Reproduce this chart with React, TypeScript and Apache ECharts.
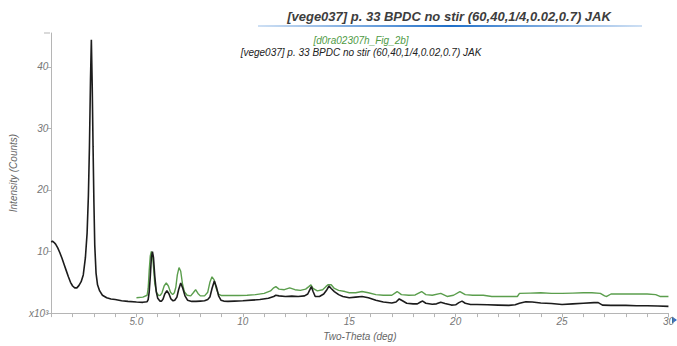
import React, { useEffect, useRef } from "react";
import * as echarts from "echarts";

const titleText = "[vege037] p. 33 BPDC no stir (60,40,1/4,0.02,0.7) JAK";
const greenName = "[d0ra02307h_Fig_2b]";
const blackName = "[vege037] p. 33 BPDC no stir (60,40,1/4,0.02,0.7) JAK";

const blackX = [
  1.0, 1.05, 1.12, 1.2, 1.3, 1.4, 1.5, 1.6, 1.7, 1.8, 1.9, 2.0, 2.1, 2.2, 2.3, 2.4, 2.5, 2.6, 2.68, 2.74, 2.79, 2.84, 2.88,
  2.92, 2.96, 3.0, 3.04, 3.1, 3.17, 3.27, 3.4, 3.6, 3.8, 4.0, 4.3, 4.6, 5.0, 5.3, 5.5, 5.55, 5.6, 5.65, 5.7, 5.75, 5.8,
  5.86, 5.93, 6.0, 6.1, 6.18, 6.25, 6.33, 6.43, 6.53, 6.62, 6.72, 6.8, 6.9, 6.98, 7.08, 7.18, 7.28, 7.4, 7.6, 7.8, 8.0,
  8.2, 8.35, 8.45, 8.55, 8.66, 8.76, 8.86, 8.97, 9.1, 9.3, 9.6, 10.0, 10.4, 10.8, 11.2, 11.45, 11.55, 11.7, 12.0, 12.3,
  12.6, 12.9, 13.05, 13.15, 13.22, 13.3, 13.4, 13.6, 13.8, 13.95, 14.05, 14.15, 14.3, 14.5, 14.7, 15.0, 15.3, 15.6, 15.9,
  16.25, 16.6, 17.0, 17.2, 17.35, 17.5, 17.7, 18.0, 18.2, 18.35, 18.45, 18.6, 18.9, 19.1, 19.3, 19.5, 19.8, 20.0, 20.15,
  20.3, 20.45, 20.7, 21.0, 21.5, 22.0, 22.5, 22.8, 23.0, 23.3, 23.6, 24.0, 24.5, 25.0, 25.5, 26.0, 26.5, 26.7, 26.9, 27.3,
  28.0, 28.5, 29.0, 29.5, 30.0,
];
const blackY = [
  11.5, 11.7, 11.5, 11.2, 10.6, 9.8, 8.9, 7.9, 6.9, 5.9, 5.0, 4.4, 4.1, 4.1, 4.5, 5.1, 6.2, 9.0, 13, 19, 27, 38, 44.4,
  37, 27, 18, 11, 6.5, 4.6, 3.6, 2.9, 2.5, 2.3, 2.2, 2.0, 1.9, 1.8, 1.75, 1.85, 2.2, 3.5, 6.0, 9.0, 10.0, 9.0,
  6.0, 3.5, 2.4, 1.95, 1.95, 2.3, 3.1, 3.65, 3.1, 2.3, 2.0, 2.1, 2.6, 3.8, 4.9, 4.0, 2.8, 2.1, 1.9, 1.9, 1.95,
  2.0, 2.2, 2.6, 4.0, 5.2, 4.2, 2.8, 2.1, 1.95, 1.9, 1.95, 2.0, 2.1, 2.2, 2.4, 2.7, 2.9, 2.8, 2.7, 2.75,
  2.7, 2.8, 3.1, 3.8, 4.3, 3.5, 2.7, 2.7, 3.1, 3.8, 4.4, 4.0, 3.5, 3.0, 2.7, 2.5, 2.6, 2.7, 2.5,
  2.1, 1.8, 1.65, 1.8, 2.3, 2.0, 1.6, 1.5, 1.5, 1.8, 1.95, 1.6, 1.45, 1.5, 1.75, 1.55, 1.3, 1.35, 1.7,
  1.95, 1.6, 1.4, 1.4, 1.35, 1.3, 1.25, 1.35, 1.6, 1.85, 1.8, 1.65, 1.55, 1.4, 1.5, 1.6, 1.7, 1.7, 1.3, 1.25,
  1.25, 1.2, 1.2, 1.15, 1.1,
];

const greenX = [
  5.0, 5.3, 5.5, 5.55, 5.6, 5.65, 5.7, 5.75, 5.8, 5.86, 5.95, 6.05, 6.12, 6.2, 6.3, 6.4, 6.5, 6.6, 6.7, 6.78, 6.85,
  6.92, 7.0, 7.08, 7.16, 7.25, 7.38, 7.55, 7.67, 7.78, 7.89, 8.0, 8.2, 8.35, 8.45, 8.55, 8.65, 8.75, 8.85, 9.0, 9.3, 9.8,
  10.2, 10.6, 11.0, 11.3, 11.45, 11.55, 11.7, 11.95, 12.2, 12.45, 12.7, 12.95, 13.1, 13.2, 13.3, 13.5, 13.75, 13.9, 14.0,
  14.15, 14.3, 14.5, 14.8, 15.0, 15.3, 15.6, 15.9, 16.25, 16.6, 17.0, 17.25, 17.45, 17.8, 18.1, 18.4, 18.6, 18.9, 19.3,
  19.6, 19.9, 20.2, 20.45, 20.8, 21.3, 21.7, 22.3, 22.9, 23.0, 23.5, 24.0, 24.5, 25.0, 25.5, 26.0, 26.4, 26.8, 27.0, 27.1,
  27.3, 27.8, 28.5, 29.0, 29.4, 29.6, 30.0,
];
const greenY = [
  2.5, 2.6, 2.9, 4.0, 7.0, 9.3, 10.0, 9.6, 7.5, 4.8, 3.3, 2.85, 2.9, 3.3, 4.4, 4.9, 4.4, 3.4, 3.0, 3.3, 4.2,
  6.2, 7.4, 6.8, 4.8, 3.5, 2.9, 2.8, 3.3, 3.8, 3.2, 2.8, 2.8, 3.4, 5.0, 5.9, 5.4, 4.0, 3.1, 2.85, 2.85, 2.85,
  2.9, 3.0, 3.2, 3.6, 4.1, 4.3, 3.9, 3.8, 4.1, 3.8, 3.7, 3.9, 4.3, 4.6, 4.0, 3.6, 3.8, 4.3, 4.6,
  4.6, 4.0, 3.7, 3.5, 3.3, 3.3, 3.5, 3.3, 3.0, 2.9, 2.9, 3.5, 3.0, 2.9, 2.95, 3.5, 3.0, 2.9, 3.2,
  2.7, 2.9, 3.5, 3.0, 2.9, 2.9, 2.7, 2.7, 2.7, 3.2, 3.25, 3.3, 3.2, 3.2, 3.25, 3.3, 3.3, 3.2, 2.8, 2.7,
  3.1, 3.1, 3.1, 3.1, 3.0, 2.7, 2.7,
];

const FONT = "'Liberation Sans', Arial, sans-serif";

export default function App() {
  const ref = useRef<HTMLDivElement>(null);
  useEffect(() => {
    if (!ref.current) return;
    const chart = echarts.init(ref.current, null, { renderer: "svg" });
    const blackData = blackX.map((x, i) => [x, blackY[i]]);
    const greenData = greenX.map((x, i) => [x, greenY[i]]);
    chart.setOption({
      animation: false,
      backgroundColor: "#ffffff",
      textStyle: { fontFamily: FONT },
      grid: { left: 47, right: 4, top: 33, bottom: 26 },
      xAxis: {
        type: "value",
        min: 1,
        max: 30,
        interval: 1,
        name: "Two-Theta (deg)",
        nameLocation: "middle",
        nameGap: 17,
        nameTextStyle: { fontStyle: "italic", color: "#666", fontSize: 10, fontFamily: FONT },
        axisLine: { lineStyle: { color: "#b5b5b5", width: 1 } },
        axisTick: { show: true, length: 4, lineStyle: { color: "#b5b5b5" } },
        splitLine: { show: false },
        axisLabel: {
          margin: 3,
          fontSize: 10,
          fontStyle: "italic",
          color: "#777",
          fontFamily: FONT,
          formatter: (v: number) => (v === 5 ? "5.0" : v % 5 === 0 ? String(v) : ""),
        },
      },
      yAxis: {
        type: "value",
        min: 0,
        max: 45.5,
        interval: 10,
        name: "Intensity (Counts)",
        nameLocation: "middle",
        nameGap: 32,
        nameRotate: 90,
        nameTextStyle: { fontStyle: "italic", color: "#666", fontSize: 10, fontFamily: FONT },
        axisLine: { show: true, lineStyle: { color: "#b5b5b5", width: 1 } },
        axisTick: { show: true, length: 4, lineStyle: { color: "#b5b5b5" } },
        splitLine: { show: false },
        axisLabel: {
          margin: 3,
          fontSize: 10,
          fontStyle: "italic",
          color: "#777",
          fontFamily: FONT,
          showMaxLabel: false,
          formatter: (v: number) => (v === 0 ? "x10³" : String(v)),
        },
      },
      series: [
        {
          name: greenName,
          type: "line",
          data: greenData,
          showSymbol: false,
          lineStyle: { color: "#5b9e4d", width: 1.4 },
          itemStyle: { color: "#5b9e4d" },
        },
        {
          name: blackName,
          type: "line",
          data: blackData,
          showSymbol: false,
          lineStyle: { color: "#1c1c1c", width: 1.6 },
          itemStyle: { color: "#1c1c1c" },
        },
      ],
      graphic: [
        {
          type: "text",
          x: 449,
          y: 10,
          style: {
            text: titleText,
            textAlign: "center",
            fontSize: 13,
            fontWeight: "bold",
            fontStyle: "italic",
            fill: "#3d3d3d",
            fontFamily: FONT,
          },
        },
        {
          type: "rect",
          shape: { x: 258, y: 25, width: 384, height: 2 },
          style: {
            fill: new echarts.graphic.LinearGradient(0, 0, 1, 0, [
              { offset: 0, color: "rgba(60,130,210,0.25)" },
              { offset: 0.5, color: "rgba(30,110,200,1)" },
              { offset: 1, color: "rgba(60,130,210,0.25)" },
            ]),
          },
        },
        {
          type: "text",
          x: 361,
          y: 35,
          style: {
            text: greenName,
            textAlign: "center",
            fontSize: 10,
            fontStyle: "italic",
            fill: "#4f9a45",
            fontFamily: FONT,
          },
        },
        {
          type: "text",
          x: 361,
          y: 47,
          style: {
            text: blackName,
            textAlign: "center",
            fontSize: 10,
            fontStyle: "italic",
            fill: "#222",
            fontFamily: FONT,
          },
        },
        {
          type: "line",
          shape: { x1: 44, y1: 33, x2: 50, y2: 33 },
          style: { stroke: "#b5b5b5", lineWidth: 1 },
        },
        {
          type: "polygon",
          shape: { points: [[672, 316.5], [677, 320], [672, 323.5]] },
          style: { fill: "#2a6fc9" },
        },
      ],
    });
    return () => chart.dispose();
  }, []);
  return (
    <div
      ref={ref}
      style={{ position: "fixed", left: 0, top: 0, width: 677, height: 346, background: "#fff" }}
    />
  );
}
